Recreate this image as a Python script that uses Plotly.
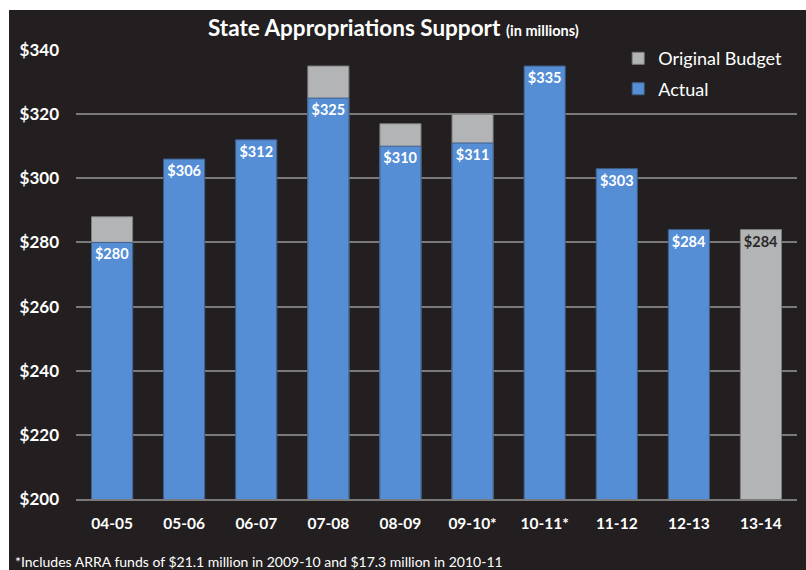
import plotly.graph_objects as go

# Fiscal years and state appropriation figures ($ millions)
years = ["04-05", "05-06", "06-07", "07-08", "08-09", "09-10*", "10-11*", "11-12", "12-13", "13-14"]
actual = [280, 306, 312, 325, 310, 311, 335, 303, 284, None]
original_budget = [288, None, None, 335, 317, 320, None, None, None, 284]

# Value labels shown inside the bars
actual_labels = [f"${v}" if v is not None else "" for v in actual]
budget_labels = [f"${b}" if a is None and b is not None else "" for a, b in zip(actual, original_budget)]

y_ticks = [200, 220, 240, 260, 280, 300, 320, 340]

BG = "#231f20"
BLUE = "#558ed5"
GRAY = "#b3b4b6"
GRID = "#7a7a7a"
FONT = "Lato, 'Open Sans', sans-serif"

fig = go.Figure()

fig.add_trace(go.Bar(
    x=years, y=original_budget, name="Original Budget", legendgroup="budget",
    marker=dict(color=GRAY, line=dict(color="#7d7d7d", width=1)),
    width=0.57,
    text=budget_labels, textposition="inside", insidetextanchor="end", textangle=0,
    textfont=dict(family=FONT, size=14.5, color="#2a2a2a", weight="bold"),
    constraintext="none", hoverinfo="x+y",
))

fig.add_trace(go.Bar(
    x=years, y=actual, name="Actual", legendgroup="actual",
    marker=dict(color=BLUE, line=dict(color="#3f5f8a", width=1)),
    width=0.57,
    text=actual_labels, textposition="inside", insidetextanchor="end", textangle=0,
    textfont=dict(family=FONT, size=14.5, color="white", weight="bold"),
    constraintext="none", hoverinfo="x+y",
))

fig.update_layout(
    width=806, height=570,
    margin=dict(l=76, r=9, t=50, b=71),
    paper_bgcolor=BG, plot_bgcolor=BG,
    barmode="overlay",
    bargap=0.43,
    font=dict(family=FONT, color="white"),
    showlegend=True,
    legend=dict(
        x=0.752, y=1.022, xanchor="left", yanchor="top",
        bgcolor="rgba(0,0,0,0)",
        font=dict(family=FONT, size=18, color="white"),
        itemwidth=30,
        traceorder="grouped",
        tracegroupgap=4,
    ),
    xaxis=dict(
        type="category",
        showgrid=False,
        showline=True, linecolor=GRID, linewidth=1.5,
        ticks="",
        ticklabelstandoff=10,
        tickfont=dict(family=FONT, size=15.5, color="white", weight="bold"),
        fixedrange=True,
    ),
    yaxis=dict(
        range=[200, 340],
        tickvals=y_ticks,
        ticktext=[f"${v}" for v in y_ticks],
        showgrid=True, gridcolor=GRID, gridwidth=1.5,
        zeroline=False,
        ticks="",
        ticklabelstandoff=16,
        tickfont=dict(family=FONT, size=17, color="white", weight="bold"),
        fixedrange=True,
    ),
    shapes=[
        # white frame strips along the top and left edges
        dict(type="rect", xref="paper", yref="paper", x0=-0.11, x1=1.02,
             y0=1.089, y1=1.12, fillcolor="white", line=dict(width=0), layer="above"),
        dict(type="rect", xref="paper", yref="paper", x0=-0.11, x1=-0.0929,
             y0=-0.17, y1=1.12, fillcolor="white", line=dict(width=0), layer="above"),
    ],
    annotations=[
        dict(
            text="<b>State Appropriations Support</b> <b><span style='font-size:14.5px'>(in millions)</span></b>",
            xref="paper", yref="paper", x=0.44, y=1.049,
            xanchor="center", yanchor="middle", showarrow=False,
            font=dict(family=FONT, size=22.5, color="white"),
        ),
        dict(
            text="*Includes ARRA funds of $21.1 million in 2009-10 and $17.3 million in 2010-11",
            xref="paper", yref="paper", x=-0.0874, y=-0.14,
            xanchor="left", yanchor="middle", showarrow=False,
            font=dict(family=FONT, size=14, color="white"),
        ),
    ],
)

fig.write_html("out.html")
